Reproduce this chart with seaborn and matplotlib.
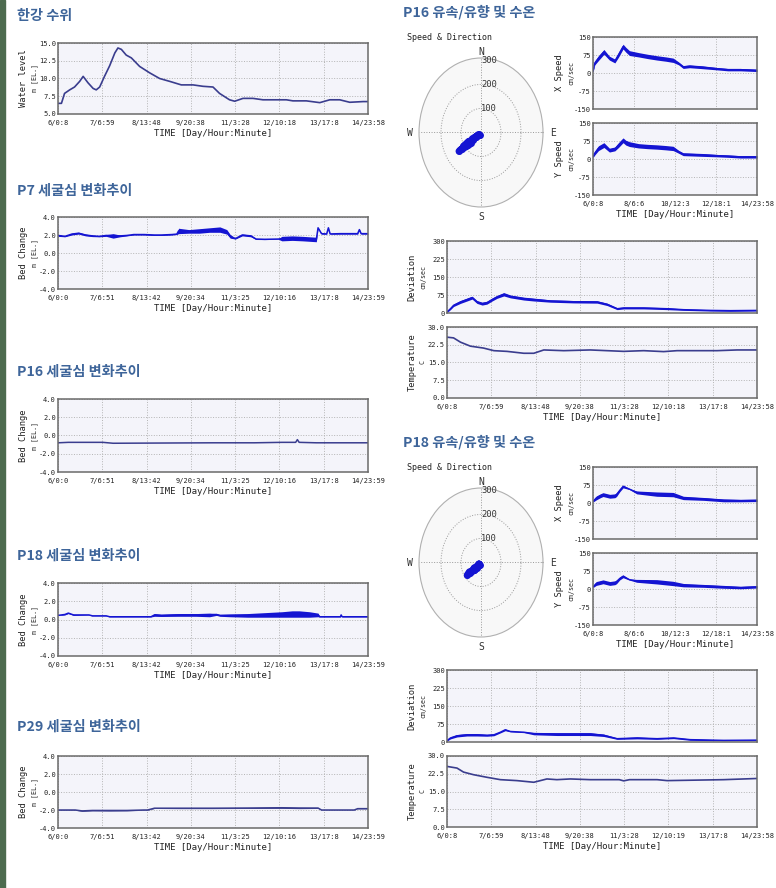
import numpy as np
import matplotlib
matplotlib.use("Agg")
import matplotlib.pyplot as plt
from matplotlib.patches import Rectangle
import seaborn as sns

sns.set_style("whitegrid")
plt.rcParams['font.family'] = ['DejaVu Sans Mono', 'Noto Sans CJK KR']

# ---- data (time in days since 6/0:08) ----
ticks_wl = ["6/0:8", "7/6:59", "8/13:48", "9/20:38", "11/3:28", "12/10:18", "13/17:8", "14/23:58"]
ticks_bed = ["6/0:0", "7/6:51", "8/13:42", "9/20:34", "11/3:25", "12/10:16", "13/17:8", "14/23:59"]
ticks_spd = ["6/0:8", "8/6:6", "10/12:3", "12/18:1", "14/23:58"]
ticks_p18 = ["6/0:8", "7/6:59", "8/13:48", "9/20:38", "11/3:28", "12/10:19", "13/17:8", "14/23:58"]

wl_t = [0, 0.1, 0.19, 0.34, 0.48, 0.63, 0.73, 0.87, 1.02, 1.11, 1.21, 1.35, 1.5, 1.65, 1.74, 1.84,
        1.98, 2.13, 2.37, 2.66, 2.95, 3.24, 3.58, 3.92, 4.21, 4.5, 4.69, 4.98, 5.13, 5.37, 5.66, 5.95,
        6.63, 6.82, 7.21, 7.6, 7.89, 8.18, 8.47, 8.86, 9.0]
wl_v = [6.5, 6.5, 7.9, 8.4, 8.8, 9.6, 10.3, 9.4, 8.6, 8.4, 8.8, 10.3, 11.8, 13.6, 14.3, 14.1,
        13.3, 12.9, 11.7, 10.8, 10.0, 9.6, 9.1, 9.1, 8.9, 8.8, 7.9, 7.0, 6.8, 7.2, 7.2, 7.0,
        7.0, 6.85, 6.85, 6.6, 7.0, 7.0, 6.65, 6.75, 6.75]

p7_t = [0.0, 0.2, 0.4, 0.6, 0.8, 1.0, 1.2, 1.4, 1.6, 1.8, 2.0, 2.2, 2.5, 2.8, 3.0, 3.3, 3.45, 3.5,
        3.8, 4.1, 4.4, 4.7, 4.9, 5.0, 5.15, 5.35, 5.6, 5.75, 6.0, 6.4, 6.5, 6.8, 7.1, 7.5, 7.55,
        7.65, 7.8, 7.85, 7.9, 8.2, 8.7, 8.75, 8.8, 9.0]
p7_v = [1.95, 1.85, 2.1, 2.2, 2.0, 1.9, 1.85, 1.95, 1.9, 1.9, 1.95, 2.05, 2.05, 2.0, 2.0, 2.05, 2.1,
        2.45, 2.4, 2.45, 2.55, 2.6, 2.35, 1.85, 1.6, 2.0, 1.9, 1.55, 1.52, 1.55, 1.6, 1.65, 1.6, 1.5,
        2.8, 2.15, 2.12, 2.8, 2.12, 2.15, 2.15, 2.6, 2.15, 2.15]
p7_amp = [0.1, 0.05, 0.1, 0.1, 0.1, 0.08, 0.05, 0.1, 0.25, 0.1, 0.05, 0.05, 0.05, 0.05, 0.05, 0.05,
          0.05, 0.3, 0.2, 0.25, 0.25, 0.3, 0.25, 0.2, 0.05, 0.1, 0.1, 0.05, 0.03, 0.03, 0.25, 0.25,
          0.25, 0.25, 0.05, 0.05, 0.03, 0.03, 0.03, 0.05, 0.05, 0.05, 0.05, 0.05]

p16b_t = [0, 0.3, 1.3, 1.6, 4.5, 5.7, 6.5, 6.9, 6.95, 7.0, 7.5, 9.0]
p16b_v = [-0.8, -0.75, -0.75, -0.85, -0.8, -0.8, -0.75, -0.75, -0.45, -0.75, -0.8, -0.8]

p18b_t = [0, 0.2, 0.3, 0.45, 0.9, 1.0, 1.4, 1.5, 2.7, 2.8, 3.0, 3.5, 4.0, 4.4, 4.6, 4.7, 5.0, 5.5,
          6.0, 6.5, 6.8, 7.0, 7.3, 7.55, 7.6, 8.2, 8.22, 8.25, 9.0]
p18b_v = [0.45, 0.55, 0.7, 0.5, 0.5, 0.4, 0.4, 0.3, 0.3, 0.5, 0.45, 0.5, 0.5, 0.5, 0.55, 0.45, 0.45,
          0.45, 0.5, 0.55, 0.6, 0.6, 0.55, 0.5, 0.3, 0.3, 0.5, 0.3, 0.3]
p18b_amp = [0.02, 0.05, 0.05, 0.05, 0.02, 0.02, 0.02, 0.02, 0.02, 0.15, 0.12, 0.15, 0.15, 0.2, 0.1,
            0.1, 0.15, 0.2, 0.25, 0.3, 0.35, 0.35, 0.3, 0.2, 0.02, 0.02, 0.02, 0.02, 0.02]

p29_t = [0, 0.5, 0.7, 1.0, 1.5, 2.0, 2.5, 2.6, 2.8, 3.5, 4.5, 5.5, 6.5, 7.0, 7.55, 7.65, 8.0, 8.6, 8.7, 9.0]
p29_v = [-2.0, -2.0, -2.1, -2.05, -2.05, -2.05, -2.0, -2.0, -1.8, -1.8, -1.8, -1.78, -1.75, -1.78,
         -1.78, -2.0, -2.0, -2.0, -1.85, -1.85]
p29_amp = [0.03, 0.03, 0.05, 0.05, 0.07, 0.05, 0.03, 0.03, 0.03, 0.05, 0.05, 0.05, 0.07, 0.07, 0.05,
           0.02, 0.02, 0.02, 0.02, 0.02]

p16_t = [0, 0.1, 0.3, 0.6, 0.9, 1.2, 1.4, 1.65, 1.8, 2.0, 2.5, 3.0, 3.5, 4.0, 4.4, 4.7, 4.95, 5.3,
         6.0, 6.8, 7.4, 8.1, 9.0]
p16_x = [7, 42, 62, 88, 62, 50, 76, 110, 97, 83, 76, 69, 63, 58, 53, 40, 25, 28, 24, 18, 14, 14, 11]
p16_y = [9, 25, 45, 58, 37, 42, 58, 78, 68, 62, 55, 52, 50, 47, 44, 30, 20, 19, 17, 14, 12, 9, 9]
p16_noise = [3, 8, 10, 10, 8, 8, 10, 10, 10, 10, 9, 9, 9, 9, 9, 6, 6, 6, 6, 5, 5, 5, 5]

p16d_t = [0, 0.1, 0.19, 0.39, 0.58, 0.73, 0.87, 1.02, 1.16, 1.31, 1.45, 1.65, 1.84, 2.23, 2.52, 3.0,
          3.68, 4.36, 4.65, 4.94, 5.13, 5.71, 6.39, 6.87, 7.65, 8.23, 9.0]
p16d_v = [4, 18, 32, 46, 56, 64, 46, 39, 43, 56, 67, 78, 69, 60, 56, 50, 47, 46, 36, 18, 21, 21, 18,
          14, 11, 10, 11]
p16d_noise = [2, 4, 5, 6, 6, 6, 6, 6, 6, 6, 6, 7, 6, 6, 6, 5, 5, 5, 5, 4, 4, 4, 4, 3, 3, 3, 3]

p16tp_t = [0, 0.19, 0.39, 0.68, 1.06, 1.36, 1.74, 2.23, 2.52, 2.81, 3.39, 4.16, 5.13, 5.71, 6.29,
           6.68, 7.84, 8.42, 9.0]
p16tp_v = [25.7, 25.4, 23.6, 21.9, 21.1, 20.0, 19.7, 18.9, 18.9, 20.3, 20.0, 20.3, 19.7, 20.0, 19.6,
           20.0, 20.0, 20.3, 20.3]

p18_t = [0, 0.18, 0.4, 0.55, 0.92, 1.2, 1.29, 1.47, 1.65, 2.0, 2.4, 3.5, 4.4, 4.96, 6.07, 7.17, 8.1, 9.0]
p18_x = [7, 21, 30, 35, 28, 30, 35, 53, 69, 58, 44, 37, 35, 21, 17, 11, 10, 11]
p18_y = [9, 23, 27, 30, 23, 26, 30, 44, 53, 39, 34, 30, 23, 16, 13, 9, 6, 9]
p18_noise = [3, 8, 8, 8, 8, 8, 8, 6, 6, 2, 6, 9, 9, 7, 6, 6, 5, 5]

p18d_t = [0, 0.1, 0.29, 0.58, 0.87, 1.16, 1.36, 1.55, 1.69, 1.84, 2.23, 2.52, 3.19, 4.16, 4.55, 4.94,
          5.52, 6.1, 6.58, 7.06, 8.03, 9.0]
p18d_v = [6, 17, 26, 30, 30, 28, 30, 41, 51, 44, 41, 35, 33, 33, 28, 14, 17, 14, 17, 10, 7, 8]
p18d_noise = [2, 4, 5, 5, 5, 4, 4, 3, 4, 2, 2, 5, 6, 6, 5, 3, 4, 3, 3, 3, 2, 2]

p18tp_t = [0, 0.29, 0.48, 0.77, 1.16, 1.55, 2.03, 2.52, 2.9, 3.19, 3.58, 4.16, 5.0, 5.13, 5.3, 6.1,
           6.39, 8.03, 9.0]
p18tp_v = [25.6, 24.9, 23.2, 22.1, 21.0, 20.0, 19.6, 18.9, 20.3, 20.0, 20.3, 20.0, 20.0, 19.5, 20.0,
           20.0, 19.6, 20.0, 20.5]

compass = ["E", "N", "W", "S"]
rings = [100, 200, 300]

# ---- styling ----
W, H = 776, 888
BLUE = "#1414d2"
NAVY = "#3a3d8e"
TITLE_C = "#3e659a"
FACE = "#f4f4fa"
KR = ["Noto Sans CJK KR", "DejaVu Sans"]


def box(x0, y0, x1, y1):
    return [x0 / W, 1 - y1 / H, (x1 - x0) / W, (y1 - y0) / H]


def ftext(x, y, s, **kw):
    fig.text(x / W, 1 - y / H, s, **kw)


def panel(rect, ylim, yticks, ylabels, xlabels, xlab=True):
    ax = fig.add_axes(box(*rect))
    ax.set_facecolor(FACE)
    ax.set_xlim(0, 9)
    ax.set_ylim(*ylim)
    ax.set_yticks(yticks)
    ax.set_yticklabels(ylabels)
    ax.set_xticks(np.linspace(0, 9, len(xlabels)))
    ax.set_xticklabels(xlabels if xlab else [])
    ax.grid(True, ls=":", color="#b4b4b4", lw=0.7)
    ax.tick_params(length=0, labelsize=5.0, colors="#222222")
    ax.tick_params(axis="x", pad=4.5)
    ax.tick_params(axis="y", pad=1.5)
    for s in ax.spines.values():
        s.set_color("#6a6a6a")
        s.set_linewidth(1.1)
    return ax


def ylab(x, yc, main, unit):
    ftext(x, yc, main, rotation=90, ha="center", va="center", fontsize=6.3, color="#222222")
    ftext(x + 11, yc, unit, rotation=90, ha="center", va="center", fontsize=4.8, color="#222222")


def draw(ax, t, v, noise=None, color=BLUE, lw=1.0, xlab=True):
    t = np.asarray(t, float)
    v = np.asarray(v, float)
    if noise is not None:
        n = np.asarray(noise, float)
        ax.fill_between(t, v - n, v + n, color=color, lw=0)
    sns.lineplot(x=t, y=v, ax=ax, color=color, lw=lw, estimator=None, sort=False)
    ax.set_ylabel("")
    if xlab:
        ax.set_xlabel("TIME [Day/Hour:Minute]", fontsize=6.5, labelpad=2, color="#222222")
    else:
        ax.set_xlabel("")


def polar(rect, xs, ys):
    ax = fig.add_axes(box(*rect), projection="polar")
    ax.set_aspect("auto")
    ax.set_facecolor("#f8f8f8")
    xs = np.asarray(xs, float)
    ys = np.asarray(ys, float)
    th = np.arctan2(-ys, -xs)
    r = np.hypot(xs, ys)
    ax.plot(th, r, color=BLUE, lw=5, solid_capstyle="round")
    sns.scatterplot(x=th, y=r, ax=ax, color=BLUE, s=25, edgecolor=BLUE, linewidth=0)
    ax.set_ylim(0, 310)
    ax.set_yticks(rings[:2])
    ax.set_yticklabels([])
    ax.set_xticks([0, np.pi / 2, np.pi, 3 * np.pi / 2])
    ax.set_xticklabels([])
    for rv in rings:
        ax.text(np.pi / 2, rv, str(rv), ha="left", va="center", fontsize=6.3, color="#333333")
    for ang, lab, rr in zip([0, np.pi / 2, np.pi, 3 * np.pi / 2], compass, [360, 336, 355, 350]):
        ax.text(ang, rr, lab, ha="center", va="center", fontsize=7, color="#333333", clip_on=False)
    ax.grid(True, ls=":", color="#999999", lw=0.7)
    ax.spines["polar"].set_color("#b0b0b0")
    ax.set_xlabel("")
    ax.set_ylabel("")
    return ax


fig = plt.figure(figsize=(W / 100, H / 100), dpi=100)
fig.patch.set_facecolor("white")
fig.add_artist(Rectangle((0, 0), 5 / W, 1, transform=fig.transFigure, color="#4d6b4f", zorder=-1))

bed_ticks = [-4, -2, 0, 2, 4]
bed_lbls = ["-4.0", "-2.0", "0.0", "2.0", "4.0"]
spd_ticks = [-150, -75, 0, 75, 150]
spd_lbls = ["-150", "-75", "0", "75", "150"]
dev_ticks = [0, 75, 150, 225, 300]
dev_lbls = ["0", "75", "150", "225", "300"]
tmp_ticks = [0, 7.5, 15, 22.5, 30]
tmp_lbls = ["0.0", "7.5", "15.0", "22.5", "30.0"]

# ---- left column ----
ftext(17, 16, "한강 수위", fontsize=10.2, color=TITLE_C, weight="bold", family=KR, va="center")
ax = panel((58, 43, 368, 114), (5, 15), [5, 7.5, 10, 12.5, 15], ["5.0", "7.5", "10.0", "12.5", "15.0"], ticks_wl)
draw(ax, wl_t, wl_v, color=NAVY, lw=1.2)
ylab(24, 78, "Water level", "m [EL.]")

left_bed = [
    ("P7 세굴심 변화추이", 191, (217, 289), p7_t, p7_v, p7_amp, BLUE),
    ("P16 세굴심 변화추이", 372, (399, 472), p16b_t, p16b_v, None, NAVY),
    ("P18 세굴심 변화추이", 556, (583, 656), p18b_t, p18b_v, p18b_amp, BLUE),
    ("P29 세굴심 변화추이", 727, (756, 828), p29_t, p29_v, p29_amp, NAVY),
]
for title, ty, (y0, y1), t, v, amp, c in left_bed:
    ftext(17, ty, title, fontsize=10.2, color=TITLE_C, weight="bold", family=KR, va="center")
    ax = panel((58, y0, 368, y1), (-4, 4), bed_ticks, bed_lbls, ticks_bed)
    draw(ax, t, v, amp, color=c, lw=1.1)
    ylab(24, (y0 + y1) / 2, "Bed Change", "m [EL.]")

# ---- right column ----
right = [
    ("P16 유속/유향 및 수온", 0, 0, p16_t, p16_x, p16_y, p16_noise, p16d_t, p16d_v, p16d_noise,
     p16tp_t, p16tp_v, ticks_wl),
    ("P18 유속/유향 및 수온", 430, 429, p18_t, p18_x, p18_y, p18_noise, p18d_t, p18d_v, p18d_noise,
     p18tp_t, p18tp_v, ticks_p18),
]
for (title, oy, off, st, sx, sy, sn, dt, dv, dn, tt, tv, tlab) in right:
    ftext(403, oy + 12, title, fontsize=10.2, color=TITLE_C, weight="bold", family=KR, va="center")
    ftext(407, oy + 38, "Speed & Direction", fontsize=6, color="#222222", va="center")
    polar((419, oy + 58, 543, oy + 207), sx, sy)

    ax = panel((593, oy + 37, 757, oy + 109), (-150, 150), spd_ticks, spd_lbls, ticks_spd, xlab=False)
    draw(ax, st, sx, sn, xlab=False)
    ylab(560, oy + 73, "X Speed", "cm/sec")
    ax = panel((593, oy + 123, 757, oy + 195), (-150, 150), spd_ticks, spd_lbls, ticks_spd)
    draw(ax, st, sy, sn)
    ylab(560, oy + 159, "Y Speed", "cm/sec")

    ax = panel((447, off + 241, 757, off + 313), (0, 300), dev_ticks, dev_lbls, tlab, xlab=False)
    draw(ax, dt, dv, dn, xlab=False)
    ylab(412, off + 277, "Deviation", "cm/sec")
    ax = panel((447, off + 327, 757, off + 398), (0, 30), tmp_ticks, tmp_lbls, tlab)
    draw(ax, tt, tv, color=NAVY, lw=1.2)
    ylab(412, off + 362, "Temperature", "C")

fig.savefig("out.png", dpi=100)
